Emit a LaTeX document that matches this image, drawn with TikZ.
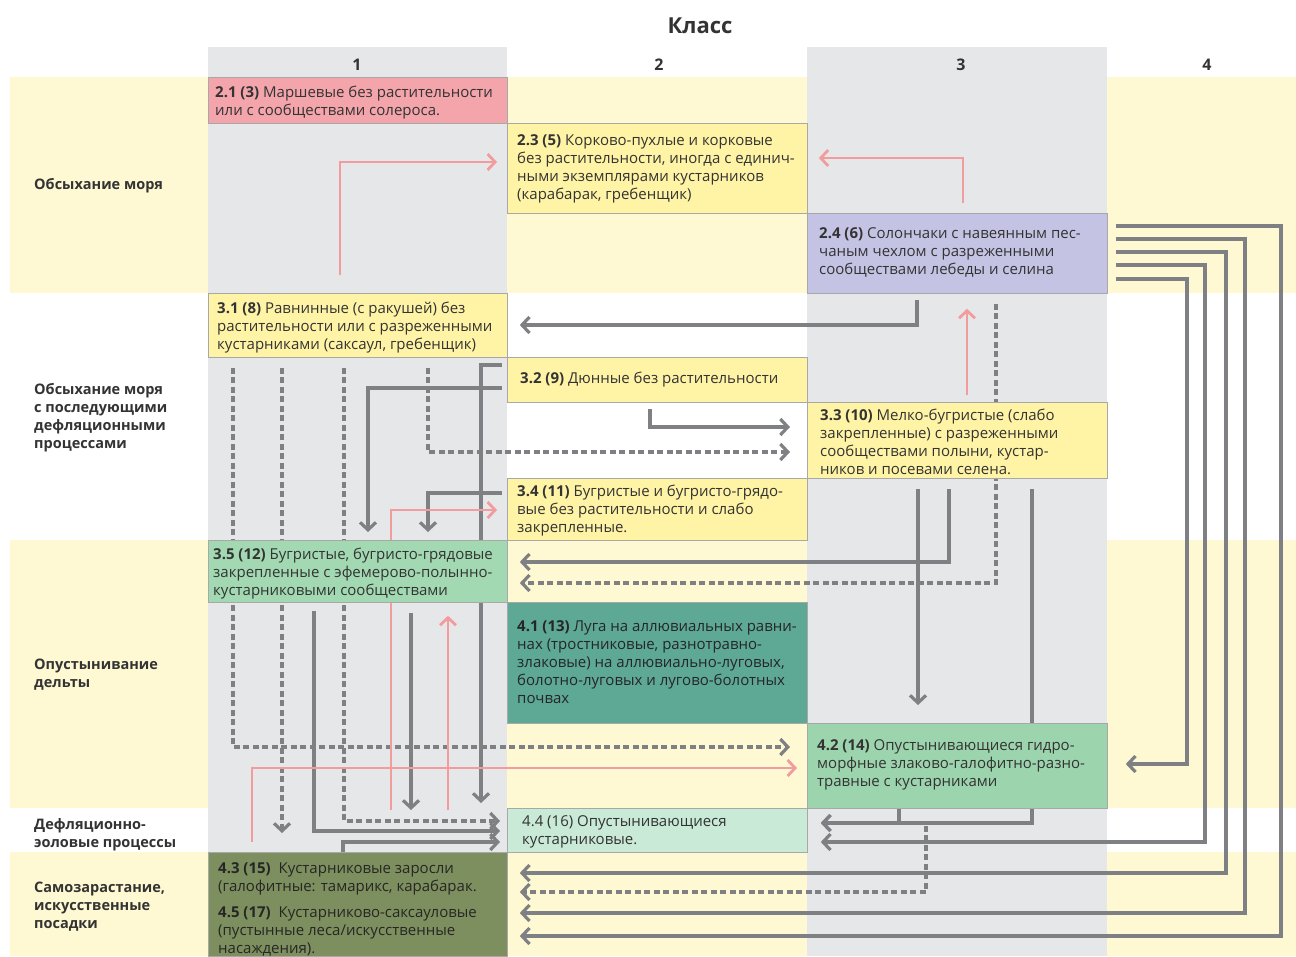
\documentclass[tikz,border=0pt]{standalone}
\usepackage{fontspec}
\setmainfont{Open Sans}
\usetikzlibrary{arrows.meta,calc}
\pgfdeclarelayer{bg}
\pgfdeclarelayer{lines}
\pgfsetlayers{bg,lines,main}
\definecolor{bandy}{HTML}{FEF9D3}
\definecolor{colg}{HTML}{E6E7E8}
\definecolor{ag}{HTML}{7E8084}
\definecolor{pk}{HTML}{F29C9E}
\definecolor{cpink}{HTML}{F3A5AB}
\definecolor{cyel}{HTML}{FFF4A6}
\definecolor{clav}{HTML}{C5C3E4}
\definecolor{cgA}{HTML}{A3D9B2}
\definecolor{cteal}{HTML}{5EA896}
\definecolor{cgB}{HTML}{9CD4AE}
\definecolor{cgC}{HTML}{C9EAD7}
\definecolor{colive}{HTML}{7D8F5E}
\definecolor{boxline}{HTML}{A8A8A8}
\definecolor{txt}{HTML}{333333}
\begin{document}
\begin{tikzpicture}[x=1pt,y=-1pt,
  box/.style={draw=boxline,line width=0.8pt,anchor=north west,inner sep=0pt,minimum width=300pt},
  btxt/.style={anchor=west,align=left,inner sep=0pt,yshift=-2pt,text=txt,font=\fontsize{15}{18}\selectfont},
  lbl/.style={anchor=west,align=left,inner sep=0pt,yshift=-2pt,text=txt,font=\bfseries\fontsize{14.5}{18}\selectfont},
  hdr/.style={text=txt,yshift=-2pt,font=\bfseries\fontsize{16}{18}\selectfont},
  tipg/.style={-{Straight Barb[length=7.5pt,width=16pt]}},
  garr/.style={draw=ag,line width=3.2pt,tipg},
  gd/.style={garr,dash pattern=on 6pt off 3.5pt},
  parr/.style={draw=pk,line width=2.8pt,tipg}]
\useasboundingbox (0,0) rectangle (1296,956);
\begin{pgfonlayer}{bg}
\fill[white] (0,0) rectangle (1296,956);
\fill[bandy] (10,77) rectangle (1296,293);
\fill[bandy] (10,540) rectangle (1296,808);
\fill[bandy] (10,852) rectangle (1296,956);
\fill[colg] (208,47) rectangle (507,956);
\fill[colg] (807,47) rectangle (1107,956);
\end{pgfonlayer}
% headers
\node[text=txt,yshift=-2pt,font=\bfseries\fontsize{22}{26}\selectfont] (title) at (700,24) {Класс};
\node[hdr] (h1) at (357,63) {1};
\node[hdr] (h2) at (659,63) {2};
\node[hdr] (h3) at (961,63) {3};
\node[hdr] (h4) at (1207,63) {4};
% row labels
\node[lbl] (r1) at (34,184) {Обсыхание моря};
\node[lbl] (r2) at (34,416) {Обсыхание моря\\с последующими\\дефляционными\\процессами};
\node[lbl] (r3) at (34,673) {Опустынивание\\дельты};
\node[lbl] (r4) at (34,833) {Дефляционно-\\эоловые процессы};
\node[lbl] (r5) at (34,905) {Самозарастание,\\искусственные\\посадки};
% boxes
\node[box,fill=cpink,minimum width=299pt,minimum height=46pt] (b21) at (208,77) {};
\node[box,fill=cyel,minimum height=90pt] (b23) at (507,123) {};
\node[box,fill=clav,minimum height=80pt] (b24) at (807,213) {};
\node[box,fill=cyel,minimum width=299pt,minimum height=64pt] (b31) at (208,293) {};
\node[box,fill=cyel,minimum height=45pt] (b32) at (507,357) {};
\node[box,fill=cyel,minimum height=76pt] (b33) at (807,402) {};
\node[box,fill=cyel,minimum height=62pt] (b34) at (507,478) {};
\node[box,fill=cgA,minimum width=299pt,minimum height=62pt] (b35) at (208,540) {};
\node[box,fill=cteal,minimum height=121pt] (b41) at (507,602) {};
\node[box,fill=cgB,minimum height=85pt] (b42) at (807,723) {};
\node[box,fill=cgC,minimum height=44pt] (b44) at (507,808) {};
\node[box,fill=colive,minimum width=299pt,minimum height=104pt] (b43) at (208,852) {};
% box texts
\node[btxt] (t21) at ($(b21.west)+(7,0)$) {\textbf{2.1 (3)} Маршевые без растительности\\или с сообществами солероса.};
\node[btxt] (t23) at ($(b23.west)+(10,-2)$) {\textbf{2.3 (5)} Корково-пухлые и корковые\\без растительности, иногда с единич-\\ными экземплярами кустарников\\(карабарак, гребенщик)};
\node[btxt] (t24) at ($(b24.west)+(12,-3)$) {\textbf{2.4 (6)} Солончаки с навеянным пес-\\чаным чехлом с разреженными\\сообществами лебеды и селина};
\node[btxt] (t31) at ($(b31.west)+(9,0)$) {\textbf{3.1 (8)} Равнинные (с ракушей) без\\растительности или с разреженными\\кустарниками (саксаул, гребенщик)};
\node[btxt] (t32) at ($(b32.west)+(13,-2)$) {\textbf{3.2 (9)} Дюнные без растительности};
\node[btxt] (t33) at ($(b33.west)+(13,-1)$) {\textbf{3.3 (10)} Мелко-бугристые (слабо\\закрепленные) с разреженными\\сообществами полыни, кустар-\\ников и посевами селена.};
\node[btxt] (t34) at ($(b34.west)+(10,-1)$) {\textbf{3.4 (11)} Бугристые и бугристо-грядо-\\вые без растительности и слабо\\закрепленные.};
\node[btxt] (t35) at ($(b35.west)+(5,0)$) {\textbf{3.5 (12)} Бугристые, бугристо-грядовые\\закрепленные с эфемерово-полынно-\\кустарниковыми сообществами};
\node[btxt,text=black!85] (t41) at ($(b41.west)+(10,-3)$) {\textbf{4.1 (13)} Луга на аллювиальных равни-\\нах (тростниковые, разнотравно-\\злаковые) на аллювиально-луговых,\\болотно-луговых и лугово-болотных\\почвах};
\node[btxt] (t42) at ($(b42.west)+(10,-3)$) {\textbf{4.2 (14)} Опустынивающиеся гидро-\\морфные злаково-галофитно-разно-\\травные с кустарниками};
\node[btxt] (t44) at ($(b44.west)+(15,-1)$) {4.4 (16) Опустынивающиеся\\кустарниковые.};
\node[btxt,text=black!85] (t43) at ($(b43.west)+(10,3)$) {\textbf{4.3 (15)}\ \ Кустарниковые заросли\\(галофитные: тамарикс, карабарак.\\[8pt]\textbf{4.5 (17)}\ \ Кустарниково-саксауловые\\(пустынные леса/искусственные\\насаждения).};
% free ends
\coordinate (e2) at (481,803);
\coordinate (e16) at (411,810);
\coordinate (e5) at (282,833);
\begin{pgfonlayer}{lines}
% gray solid
\draw[garr,shorten <=6pt,shorten >=12pt] (b24.south -| 917,0) |- (b31.east |- 0,325);
\draw[garr,shorten <=5pt] (b32.west |- 0,365) -| (e2);
\draw[garr,shorten <=5pt,shorten >=8pt] (b32.west |- 0,388) -| (b35.north -| 368,0);
\draw[garr,shorten <=6pt,shorten >=17pt] (b32.south -| 650,0) |- (b33.west |- 0,427);
\draw[garr,shorten <=5pt,shorten >=8pt] (b34.west |- 0,493) -| (b35.north -| 428,0);
\draw[garr,shorten <=10pt,shorten >=18pt] (b33.south -| 918,0) -- (b42.north -| 918,0);
\draw[garr,shorten <=10pt,shorten >=12pt] (b33.south -| 949,0) |- (b35.east |- 0,562);
\draw[garr,shorten <=10pt,shorten >=13pt] (b33.south -| 1032,0) |- (b44.east |- 0,823);
\draw[garr,shorten >=13pt] (b42.south -| 899,0) |- (b44.east |- 0,823);
\draw[garr,shorten <=8pt,shorten >=18pt] (b24.east |- 0,279) -| (1187,764) -- (b42.east |- 0,764);
\draw[garr,shorten <=8pt,shorten >=13pt] (b24.east |- 0,265) -| (1205,842) -- (b44.east |- 0,842);
\draw[garr,shorten <=8pt,shorten >=12pt] (b24.east |- 0,252) -| (1226,873) -- (b43.east |- 0,873);
\draw[garr,shorten <=8pt,shorten >=12pt] (b24.east |- 0,239) -| (1245,913) -- (b43.east |- 0,913);
\draw[garr,shorten <=8pt,shorten >=12pt] (b24.east |- 0,226) -| (1281,936) -- (b43.east |- 0,936);
\draw[garr,shorten <=8pt,shorten >=7pt] (b35.south -| 314,0) |- (b44.west |- 0,831);
\draw[garr,shorten <=10pt] (b35.south -| 411,0) -- (e16);
\draw[garr,shorten >=7pt] (b43.north -| 343,0) |- (b44.west |- 0,842);
% gray dashed
\draw[gd,shorten <=10pt,shorten >=12pt] (b24.south -| 996,0) |- (b35.east |- 0,583);
\draw[gd,shorten <=17pt,shorten >=12pt] (b42.south -| 926,0) |- (b43.east |- 0,892);
\draw[gd,shorten <=10pt,shorten >=17pt] (b31.south -| 428,0) |- (b33.west |- 0,452);
\draw[gd,shorten <=10pt,shorten >=17pt] (b31.south -| 233,0) |- (b42.west |- 0,747);
\draw[gd,shorten <=10pt] (b31.south -| 282,0) -- (e5);
\draw[gd,shorten <=10pt,shorten >=7pt] (b31.south -| 344,0) |- (b44.west |- 0,821);
% pink
\draw[parr,shorten <=18pt,shorten >=10pt] (b31.north -| 340,0) |- (b23.west |- 0,162);
\draw[parr,shorten <=10pt,shorten >=11pt] (b24.north -| 963,0) |- (b23.east |- 0,158);
\draw[parr,shorten <=7pt,shorten >=15pt] (b33.north -| 967,0) -- (b24.south -| 967,0);
\draw[parr,shorten <=42pt,shorten >=10pt] (b43.north -| 391,0) |- (b34.west |- 0,510);
\draw[parr,shorten <=42pt,shorten >=13pt] (b43.north -| 448,0) -- (b35.south -| 448,0);
\draw[parr,shorten <=10pt,shorten >=10pt] (b43.north -| 252,0) |- (b42.west |- 0,768);
\end{pgfonlayer}
\end{tikzpicture}
\end{document}
